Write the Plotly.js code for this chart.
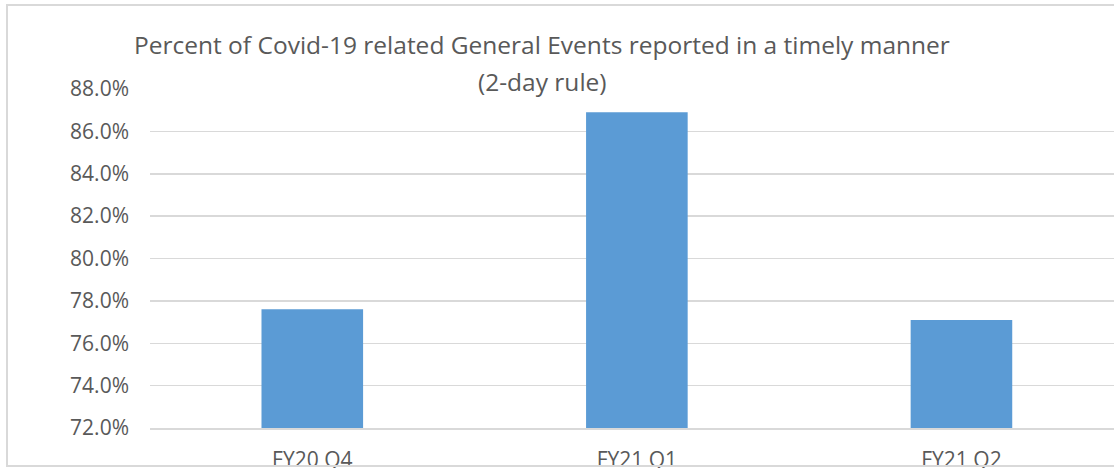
<!DOCTYPE html>
<html>
<head>
<meta charset="utf-8">
<script src="https://cdn.plot.ly/plotly-3.0.1.min.js"></script>
<style>
  html, body { margin: 0; padding: 0; background: #fff; overflow: hidden; }
  #wrap { position: relative; width: 1114px; height: 468px; overflow: hidden; }
  #chart { position: absolute; left: 0; top: 0; width: 1114px; height: 468px; }
  #frame { position: absolute; left: 6px; top: 4px; width: 1200px; height: 463px;
           border: 2px solid #d9d9d9; pointer-events: none; box-sizing: border-box; }
</style>
</head>
<body>
<div id="wrap">
  <div id="chart"></div>
  <div id="frame"></div>
</div>
<script>
const categories = ["FY20 Q4", "FY21 Q1", "FY21 Q2"];
const percentTimely = [0.776, 0.869, 0.771];
const yTicks = [0.72, 0.74, 0.76, 0.78, 0.80, 0.82, 0.84, 0.86, 0.88];
const titleLine1 = "Percent of Covid-19 related General Events reported in a timely manner";
const titleLine2 = "(2-day rule)";

const FONT = "Open Sans, Noto Sans, sans-serif";
const TXT = "#595959";
const titleFont = { family: FONT, size: 24.5, color: TXT };

Plotly.newPlot("chart", [{
  type: "bar",
  x: categories,
  y: percentTimely,
  marker: { color: "#5b9bd5" },
  hoverinfo: "x+y"
}], {
  width: 1114,
  height: 468,
  margin: { l: 150, r: 0, t: 88.5, b: 40.3, pad: 0 },
  paper_bgcolor: "rgba(0,0,0,0)",
  plot_bgcolor: "#fff",
  showlegend: false,
  bargap: 0.687,
  annotations: [
    { text: titleLine1, xref: "paper", yref: "paper", x: 0.407, y: 1.131,
      xanchor: "center", yanchor: "middle", showarrow: false, font: titleFont },
    { text: titleLine2, xref: "paper", yref: "paper", x: 0.407, y: 1.022,
      xanchor: "center", yanchor: "middle", showarrow: false, font: titleFont }
  ],
  xaxis: {
    type: "category",
    range: [-0.5, 2.47],
    showgrid: false,
    showline: true, linecolor: "#d9d9d9", linewidth: 1.5,
    ticks: "",
    ticklabelstandoff: 12,
    tickfont: { family: FONT, size: 21, color: TXT },
    fixedrange: true
  },
  yaxis: {
    range: [0.72, 0.88],
    tickvals: yTicks,
    tickformat: ".1%",
    showgrid: true, gridcolor: "#d9d9d9", gridwidth: 1.5,
    zeroline: false,
    showline: false,
    ticks: "",
    ticklabelstandoff: 20,
    tickfont: { family: FONT, size: 21, color: TXT },
    fixedrange: true
  }
}, { displayModeBar: false, staticPlot: true });
</script>
</body>
</html>
